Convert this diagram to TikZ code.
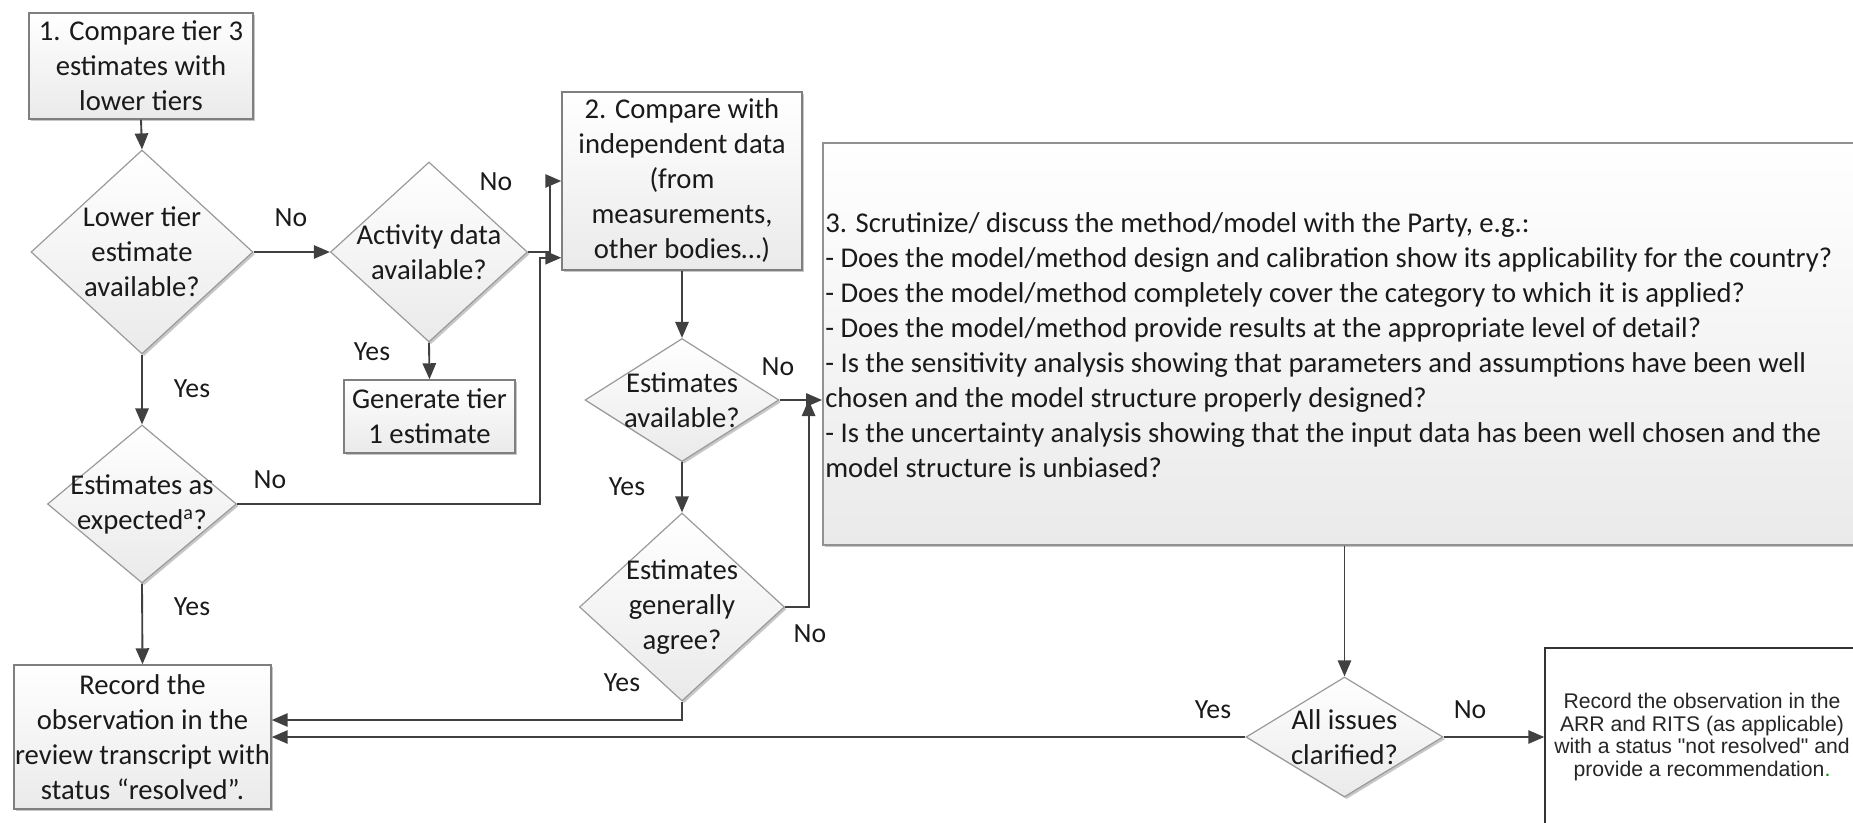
\documentclass[tikz,border=0pt]{standalone}
\usepackage{fontspec}
\setmainfont{Carlito}
\newfontfamily\arialfont{Liberation Sans}
\usetikzlibrary{arrows.meta,shapes.geometric,shadows,calc}

\definecolor{linegray}{HTML}{404040}
\definecolor{edgegray}{HTML}{7F7F7F}
\definecolor{dmdedge}{HTML}{9A9A9A}
\definecolor{fillbot}{HTML}{EAEAEA}
\definecolor{inktext}{HTML}{1A1A1A}

\newcommand\flowfont{\fontsize{21.5}{26.25}\selectfont}
\newcommand\tagfont{\fontsize{20.8}{24}\selectfont}

\tikzset{
  softshadow/.style={drop shadow={shadow xshift=1.6pt, shadow yshift=-1.6pt, opacity=0.22, fill=black}},
  procbox/.style={rectangle, draw=edgegray, line width=1.1pt, top color=white, bottom color=fillbot,
    inner sep=0pt, align=center, text=inktext, font=\flowfont, softshadow},
  decision/.style={diamond, draw=dmdedge, line width=0.9pt, top color=white, bottom color=fillbot,
    inner sep=0pt, softshadow},
  dtext/.style={align=center, text=inktext, font=\flowfont, inner sep=0pt},
  tag/.style={text=inktext, font=\tagfont, inner sep=0pt},
  link/.style={draw=linegray, line width=1.4pt},
  arr/.style={link, -{Triangle[length=12pt,width=10pt]}},
}

\begin{document}
\begin{tikzpicture}[x=0.75pt, y=-0.75pt]
\useasboundingbox (0,0) rectangle (1853,822);

% --- step 1 and its checks
\node[procbox, minimum width=168pt, minimum height=79.5pt] (box1) at (141,66)
  {1. Compare tier 3\\estimates with\\lower tiers};

\node[decision, minimum width=166.5pt, minimum height=153pt] (d1) at (142,252) {};
\node[dtext] (d1t) at (d1.center) {Lower tier\\estimate\\available?};

\node[decision, minimum width=147.75pt, minimum height=135pt] (d2) at (429,252) {};
\node[dtext] (d2t) at (d2.center) {Activity data\\available?};

\node[procbox, minimum width=128.25pt, minimum height=54.75pt] (gen) at (429.5,416.5)
  {Generate tier\\1 estimate};

\node[decision, minimum width=141.75pt, minimum height=118.5pt] (d3) at (142,504) {};
\node[dtext] (d3t) at (d3.center) {Estimates as\\expected\textsuperscript{a}?};

\node[procbox, minimum width=192.75pt, minimum height=108pt] (box4) at (142.5,737)
  {Record the\\observation in the\\review transcript with\\status “resolved”.};

% --- step 2
\node[procbox, minimum width=180pt, minimum height=133.5pt] (box2) at (682,181)
  {2. Compare with\\independent data\\(from\\measurements,\\other bodies…)};

\node[decision, minimum width=145.5pt, minimum height=92.25pt] (d4) at (682,400) {};
\node[dtext] (d4t) at (d4.center) {Estimates\\available?};

\node[decision, minimum width=153.75pt, minimum height=141pt] (d5) at (682,607) {};
\node[dtext] (d5t) at (d5.center) {Estimates\\generally\\agree?};

% --- step 3
\node[procbox, draw=edgegray!85, line width=1.4pt, minimum width=777.75pt, minimum height=301.5pt] (box3) at (1341.5,344) {};
\node[dtext, align=left, anchor=west] (box3t) at (825,345)
  {3. Scrutinize/ discuss the method/model with the Party, e.g.:\\
   - Does the model/method design and calibration show its applicability for the country?\\
   - Does the model/method completely cover the category to which it is applied?\\
   - Does the model/method provide results at the appropriate level of detail?\\
   - Is the sensitivity analysis showing that parameters and assumptions have been well\\
   chosen and the model structure properly designed?\\
   - Is the uncertainty analysis showing that the input data has been well chosen and the\\
   model structure is unbiased?};

\node[decision, minimum width=147.75pt, minimum height=90pt] (d6) at (1344.5,737) {};
\node[dtext] (d6t) at (d6.center) {All issues\\clarified?};

\node[rectangle, draw=black!80, line width=1.1pt, fill=white, minimum width=237pt, minimum height=133.5pt,
  inner sep=0pt] (box5) at (1703,737) {};
\node[align=center, inner sep=0pt, text=black!85, font=\arialfont\fontsize{15.9}{17}\selectfont] (box5t) at (1702,737)
  {Record the observation in the\\ARR and RITS (as applicable)\\with a status "not resolved" and\\provide a recommendation\textcolor{green!55!black}{.}};

% --- connectors
\draw[arr] (box1.south) -- (d1.north);
\draw[arr] (d1.east) -- (d2.west);
\draw[arr] (d2.south) -- (gen.north);
\draw[arr] (d2.east) -- ++(22,0) |- (box2.west);
\draw[arr] (d1.south) -- (d3.north);
\draw[arr] (d3.east) -- ++(303,0) |- ([yshift=9.75pt]box2.south west);
\draw[arr] (d3.south) -- (box4.north);
\draw[arr] (box2.south) -- (d4.north);
\draw[arr] (d4.east) -- (box3.west |- d4.east);
\draw[arr] (d4.south) -- (d5.north);
\draw[arr] (d5.east) -| ([xshift=21.75pt]d4.east);
\draw[arr] (d5.south) |- ([yshift=12.75pt]box4.east);
\draw[arr] (d6.north |- box3.south) -- (d6.north);
\draw[arr] (d6.west) -- (box4.east |- d6.west);
\draw[arr] (d6.east) -- (box5.west |- d6.east);

% --- branch labels
\node[tag] (l1) at (291,218) {No};
\node[tag] (l2) at (496,182) {No};
\node[tag] (l3) at (372,352) {Yes};
\node[tag] (l4) at (192,389) {Yes};
\node[tag] (l5) at (270,480) {No};
\node[tag] (l6) at (192,607) {Yes};
\node[tag] (l7) at (778,367) {No};
\node[tag] (l8) at (627,487) {Yes};
\node[tag] (l9) at (810,634) {No};
\node[tag] (l10) at (622,683) {Yes};
\node[tag] (l11) at (1213,710) {Yes};
\node[tag] (l12) at (1470,710) {No};
\end{tikzpicture}
\end{document}
